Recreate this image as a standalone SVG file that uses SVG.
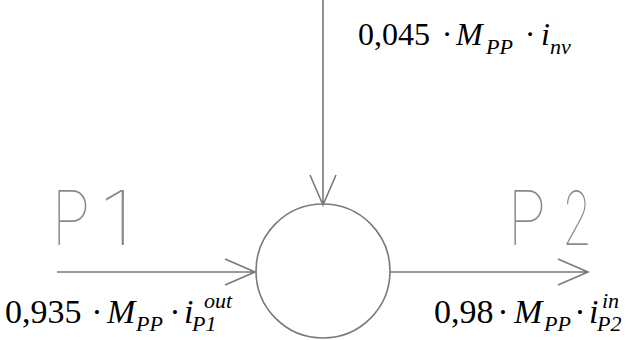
<svg xmlns="http://www.w3.org/2000/svg" width="630" height="340" viewBox="0 0 630 340">
<style>
.ln{stroke:#7a7a7a;stroke-width:1.6;fill:none}
.big{font-family:Inter,"Liberation Sans",sans-serif;font-weight:100;font-size:75px;fill:#8a8a8a}
.m{font-family:"Liberation Serif","DejaVu Serif",serif;font-size:34px;fill:#000}
.t{font-size:32px}
.i{font-style:italic}
.s{font-family:"Liberation Serif","DejaVu Serif",serif;font-style:italic;font-size:22px;fill:#000}
.d{text-anchor:middle}
</style>
<rect width="630" height="340" fill="#fff"/>
<g id="node-mixer"><circle class="ln" cx="323" cy="271" r="67"/></g>
<g id="connectors">
<path class="ln" d="M323 0V205M310 175L323 205L336 175"/>
<path class="ln" d="M57 272H255M225 259L255 272L225 285"/>
<path class="ln" d="M390 272H588M558 259L588 272L558 285"/>
</g>
<g id="label-p1">
<text class="big" x="51" y="245" textLength="40" lengthAdjust="spacingAndGlyphs">P</text>
<text class="big" x="99" y="245" textLength="36" lengthAdjust="spacingAndGlyphs">1</text>
</g>
<g id="label-p2">
<text class="big" x="507" y="245" textLength="40" lengthAdjust="spacingAndGlyphs">P</text>
<text class="big" x="562" y="245" textLength="30" lengthAdjust="spacingAndGlyphs">2</text>
</g>
<g id="label-top">
<text class="m t" x="358" y="45">0,045</text>
<text class="m t d" x="447" y="45">·</text>
<text class="m t i" x="456" y="45">M</text>
<text class="s" x="486" y="54">PP</text>
<text class="m t d" x="530" y="45">·</text>
<text class="m t i" x="541" y="45">i</text>
<text class="s" x="550" y="54">nv</text>
</g>
<g id="label-left">
<text class="m" x="5" y="323">0,935</text>
<text class="m d" x="97" y="323">·</text>
<text class="m i" x="107" y="323">M</text>
<text class="s" x="136" y="331">PP</text>
<text class="m d" x="175" y="323">·</text>
<text class="m i" x="184" y="323">i</text>
<text class="s" x="192" y="331">P1</text>
<text class="s" x="204" y="308">out</text>
</g>
<g id="label-right">
<text class="m" x="434" y="323">0,98</text>
<text class="m d" x="503" y="323">·</text>
<text class="m i" x="514" y="323">M</text>
<text class="s" x="544" y="331">PP</text>
<text class="m d" x="580" y="323">·</text>
<text class="m i" x="589" y="323">i</text>
<text class="s" x="597" y="331">P2</text>
<text class="s" x="602" y="308">in</text>
</g>
</svg>
